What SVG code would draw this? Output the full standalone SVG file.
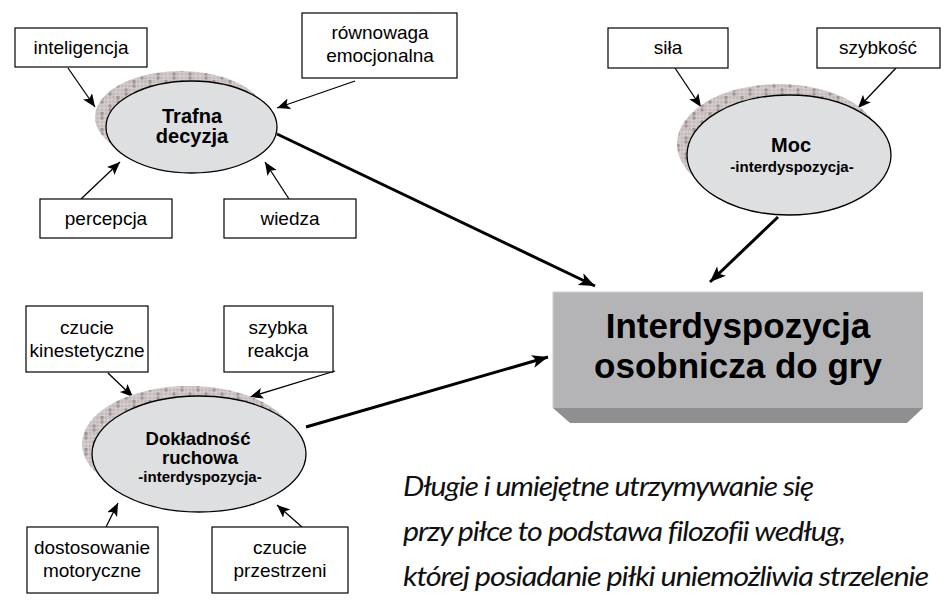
<svg xmlns="http://www.w3.org/2000/svg" width="945" height="603" viewBox="0 0 945 603">
<style>
.box{fill:#fff;stroke:#000;stroke-width:1.2}
.lbl{font-family:"Liberation Sans",Arial,sans-serif;font-size:19px;fill:#000;text-anchor:middle}
.ttl{font-family:"Liberation Sans",Arial,sans-serif;font-weight:bold;font-size:20px;fill:#000;text-anchor:middle}
.sub{font-family:"Liberation Sans",Arial,sans-serif;font-weight:bold;font-size:15px;fill:#000;text-anchor:middle}
.ell{fill:#dedfe0;stroke:#000;stroke-width:1.3}
.shd{fill:url(#chk)}
.thin{stroke:#000;stroke-width:1.3;fill:none;marker-end:url(#ah)}
.thick{stroke:#000;stroke-width:3;fill:none;marker-end:url(#ahb)}
.quote{font-family:Lato,"Open Sans",sans-serif;font-style:italic;font-size:27px;letter-spacing:-1px;fill:#111}
</style>
<defs>
<pattern id="chk" width="16" height="16" patternUnits="userSpaceOnUse">
<rect width="16" height="16" fill="#c4bbbb"/>
<rect x="4" y="0" width="4" height="8" fill="#9f9494"/>
<rect x="12" y="8" width="4" height="8" fill="#9f9494"/>
<path d="M0 4H16M0 8H16M0 12H16M0 16H16M4 0V16M8 0V16M12 0V16M16 0V16" stroke="#e2dcdc" stroke-width="0.7"/>
</pattern>
<marker id="ah" markerUnits="userSpaceOnUse" markerWidth="15" markerHeight="12" refX="13" refY="5.5" orient="auto">
<path d="M0,0 L13,5.5 L0,11 L3,5.5 Z" fill="#000"/>
</marker>
<marker id="ahb" markerUnits="userSpaceOnUse" markerWidth="20" markerHeight="16" refX="16" refY="6.5" orient="auto">
<path d="M0,0 L16,6.5 L0,13 L4,6.5 Z" fill="#000"/>
</marker>
</defs>
<rect width="945" height="603" fill="#fff"/>

<g id="connectors">
<line class="thin" x1="68" y1="68" x2="95" y2="107"/>
<line class="thin" x1="355" y1="81" x2="277" y2="108"/>
<line class="thin" x1="81" y1="199" x2="120" y2="162"/>
<line class="thin" x1="289" y1="199" x2="265" y2="162"/>
<line class="thin" x1="675" y1="68" x2="701" y2="107"/>
<line class="thin" x1="896" y1="68" x2="858" y2="108"/>
<line class="thin" x1="108" y1="373" x2="133" y2="397"/>
<line class="thin" x1="335" y1="371" x2="250" y2="397"/>
<line class="thin" x1="106" y1="527" x2="118" y2="503"/>
<line class="thin" x1="302" y1="527" x2="277" y2="505"/>
<line class="thick" x1="277" y1="134" x2="595" y2="286"/>
<line class="thick" x1="778" y1="217" x2="710" y2="282"/>
<line class="thick" x1="306" y1="427" x2="548" y2="357"/>
</g>

<g id="main">
<polygon points="553,408 923,408 907,423 570,423" fill="#8f8f91"/>
<rect x="553" y="292" width="370" height="116" fill="#b4b4b6"/>
<path d="M553,408 V292 H923" fill="none" stroke="#cfcfd0" stroke-width="1.2"/>
<text x="738" y="338" class="ttl" style="font-size:35px">Interdyspozycja</text>
<text x="738" y="378" class="ttl" style="font-size:35px">osobnicza do gry</text>
</g>

<g id="trafna">
<ellipse class="shd" cx="180.5" cy="117" rx="85.5" ry="46"/>
<ellipse class="ell" cx="191.5" cy="127" rx="85.5" ry="46"/>
<text x="192" y="123" class="ttl">Trafna</text>
<text x="192" y="143" class="ttl">decyzja</text>
</g>

<g id="moc">
<ellipse class="shd" cx="779" cy="144" rx="102" ry="60"/>
<ellipse class="ell" cx="789" cy="155" rx="102" ry="60"/>
<text x="791" y="152" class="ttl">Moc</text>
<text x="792" y="172" class="sub">-interdyspozycja-</text>
</g>

<g id="dokladnosc">
<ellipse class="shd" cx="189" cy="444" rx="107" ry="58"/>
<ellipse class="ell" cx="199" cy="454" rx="107" ry="58"/>
<text x="198" y="445" class="ttl" style="font-size:18.5px">Dokładność</text>
<text x="200" y="464" class="ttl" style="font-size:18.5px">ruchowa</text>
<text x="200" y="482" class="sub">-interdyspozycja-</text>
</g>

<g id="inteligencja"><rect class="box" x="15" y="28" width="132" height="39"/><text x="81" y="54" class="lbl">inteligencja</text></g>
<g id="rownowaga"><rect class="box" x="302" y="13" width="155" height="65"/><text x="380" y="39" class="lbl">równowaga</text><text x="380" y="62" class="lbl">emocjonalna</text></g>
<g id="percepcja"><rect class="box" x="40" y="199" width="132" height="39"/><text x="106" y="225" class="lbl">percepcja</text></g>
<g id="wiedza"><rect class="box" x="224" y="199" width="132" height="39"/><text x="290" y="225" class="lbl">wiedza</text></g>
<g id="sila"><rect class="box" x="608" y="28" width="120" height="40"/><text x="668" y="54" class="lbl">siła</text></g>
<g id="szybkosc"><rect class="box" x="817" y="28" width="123" height="40"/><text x="878" y="54" class="lbl">szybkość</text></g>
<g id="czucie-kin"><rect class="box" x="26" y="306" width="122" height="66"/><text x="87" y="334" class="lbl">czucie</text><text x="87" y="357" class="lbl">kinestetyczne</text></g>
<g id="szybka-reakcja"><rect class="box" x="224" y="306" width="109" height="66"/><text x="278" y="334" class="lbl">szybka</text><text x="278" y="357" class="lbl">reakcja</text></g>
<g id="dostosowanie"><rect class="box" x="27" y="527" width="131" height="66"/><text x="92" y="554" class="lbl">dostosowanie</text><text x="92" y="577" class="lbl">motoryczne</text></g>
<g id="czucie-przestrzeni"><rect class="box" x="212" y="527" width="136" height="66"/><text x="280" y="554" class="lbl">czucie</text><text x="280" y="577" class="lbl">przestrzeni</text></g>

<g id="quote">
<text x="403" y="496" class="quote" textLength="410" lengthAdjust="spacingAndGlyphs">Długie i umiejętne utrzymywanie się</text>
<text x="403" y="541" class="quote" textLength="442" lengthAdjust="spacingAndGlyphs">przy piłce to podstawa filozofii według,</text>
<text x="403" y="586" class="quote" textLength="525" lengthAdjust="spacingAndGlyphs">której posiadanie piłki uniemożliwia strzelenie</text>
</g>
</svg>
